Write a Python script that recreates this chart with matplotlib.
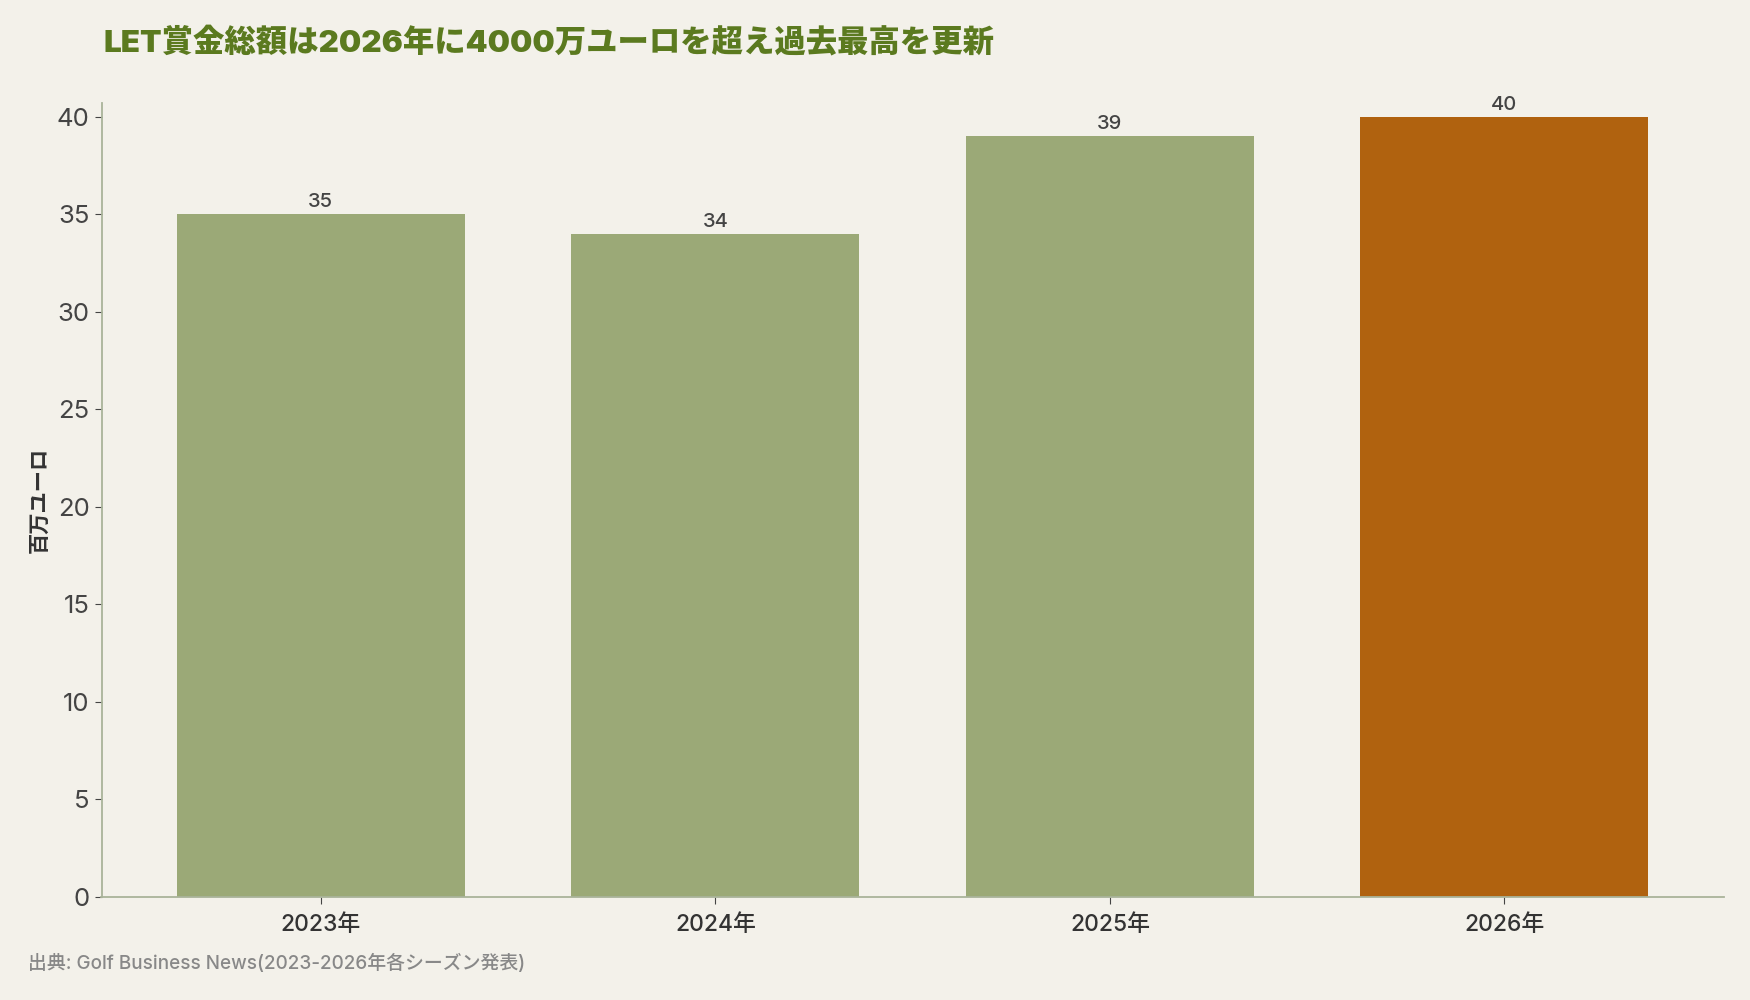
import matplotlib
matplotlib.use("Agg")
import matplotlib.pyplot as plt

plt.rcParams["font.family"] = ["Inter", "Noto Sans CJK JP", "DejaVu Sans"]

BG = "#f3f1ea"
GREEN = "#9ba977"
ORANGE = "#b0620f"
TITLE_C = "#5b7a1f"
SPINE_C = "#a9b39a"

years = ["2023年", "2024年", "2025年", "2026年"]
prize = [35, 34, 39, 40]
colors = [GREEN, GREEN, GREEN, ORANGE]

fig = plt.figure(figsize=(17.5, 10), dpi=100, facecolor=BG)
ax = fig.add_axes([0.058, 0.103, 0.927, 0.794], facecolor=BG)

x = range(len(years))
bars = ax.bar(x, prize, width=0.73, color=colors, zorder=2)
for b, v in zip(bars, prize):
    ax.text(b.get_x() + b.get_width() / 2, v + 0.15, f"{v}",
            ha="center", va="bottom", fontsize=14.5, color="#444444",
            fontweight="medium")

ax.set_xlim(-0.556, 3.556)
ax.set_ylim(0, 40.7)
ax.set_xticks(list(x))
ax.set_xticklabels(years, fontsize=16.5, color="#333333", fontweight="medium")
ax.set_yticks(range(0, 41, 5))
ax.tick_params(axis="y", labelsize=18.5, labelcolor="#444444", color="#444444", length=5)
ax.tick_params(axis="x", color="#444444", length=5, pad=7)

for s in ["top", "right"]:
    ax.spines[s].set_visible(False)
for s in ["left", "bottom"]:
    ax.spines[s].set_color(SPINE_C)
    ax.spines[s].set_linewidth(1.3)

ax.set_ylabel("百万ユーロ", fontsize=15.3, fontweight="bold", color="#333333")
ax.yaxis.set_label_coords(-0.032, 0.5)

fig.text(0.059, 0.958, "LET賞金総額は2026年に4000万ユーロを超え過去最高を更新",
         fontsize=22.6, fontweight="black", color=TITLE_C, va="center")
fig.text(0.016, 0.037, "出典: Golf Business News(2023-2026年各シーズン発表)",
         fontsize=13.6, color="#888888", va="center", fontweight="medium")

fig.savefig("out.png", dpi=100, facecolor=BG)
